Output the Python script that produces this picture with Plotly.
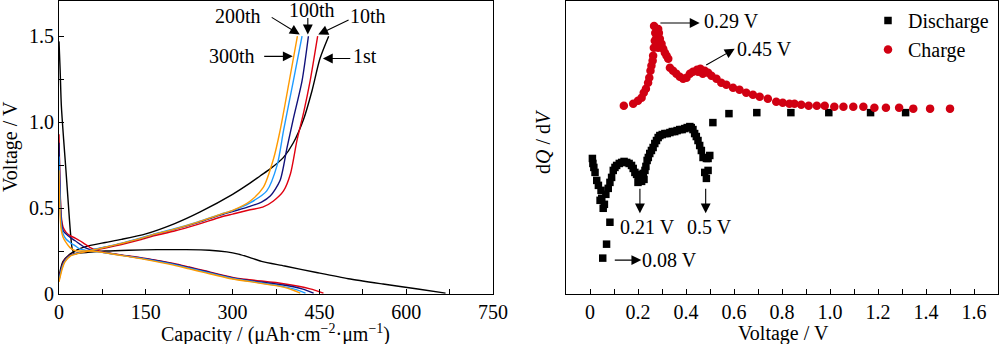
import plotly.graph_objects as go

# ---------------- Left panel: charge/discharge profiles ----------------
cycles = ["1st", "10th", "100th", "200th", "300th"]
colors = ["#000000", "#e00010", "#10107a", "#1e9bff", "#ff9a00"]

# discharge curves (capacity, voltage)
dis_cap_1 = [0, 2, 4, 8, 12, 16, 20, 23, 27, 35, 50, 80, 120, 170, 220, 260, 290, 310, 330, 350, 390, 445, 500, 560, 620, 668]
dis_v_1 = [1.47, 1.3, 1.1, 0.9, 0.72, 0.53, 0.35, 0.26, 0.235, 0.238, 0.243, 0.25, 0.255, 0.258, 0.258, 0.255, 0.245, 0.232, 0.212, 0.19, 0.163, 0.125, 0.089, 0.058, 0.029, 0.005]

dis_cap_10 = [0, 2, 4, 7, 12, 19, 28, 36, 45, 54, 65, 75, 108, 150, 198, 225, 250, 300, 330, 388, 434, 457]
dis_v_10 = [0.93, 0.6, 0.45, 0.39, 0.36, 0.34, 0.325, 0.31, 0.29, 0.27, 0.255, 0.245, 0.228, 0.207, 0.178, 0.157, 0.137, 0.097, 0.083, 0.06, 0.03, 0.005]

dis_cap_100 = [0, 2, 4, 7, 12, 19, 28, 36, 45, 54, 65, 75, 108, 150, 198, 225, 250, 300, 330, 388, 420, 440]
dis_v_100 = [0.88, 0.58, 0.43, 0.37, 0.35, 0.33, 0.31, 0.29, 0.27, 0.258, 0.25, 0.243, 0.226, 0.205, 0.175, 0.154, 0.134, 0.094, 0.078, 0.052, 0.03, 0.005]

dis_cap_200 = [0, 2, 4, 7, 12, 19, 28, 36, 45, 54, 65, 75, 108, 150, 198, 225, 250, 300, 330, 388, 410, 426]
dis_v_200 = [0.8, 0.52, 0.4, 0.35, 0.32, 0.3, 0.28, 0.262, 0.255, 0.25, 0.247, 0.242, 0.225, 0.203, 0.172, 0.15, 0.13, 0.09, 0.074, 0.043, 0.025, 0.005]

dis_cap_300 = [0, 2, 4, 7, 12, 19, 28, 36, 45, 54, 65, 75, 108, 150, 198, 225, 250, 300, 330, 388, 405, 417]
dis_v_300 = [0.72, 0.45, 0.37, 0.33, 0.3, 0.27, 0.252, 0.25, 0.25, 0.25, 0.247, 0.242, 0.224, 0.2, 0.168, 0.146, 0.126, 0.087, 0.072, 0.04, 0.022, 0.005]

# charge curves (capacity, voltage)
chg_cap_1 = [0, 2, 7, 19, 33, 51, 80, 108, 150, 200, 244, 300, 330, 348, 365, 388, 405, 423, 437, 451, 466]
chg_v_1 = [0.1, 0.135, 0.19, 0.232, 0.26, 0.28, 0.3, 0.318, 0.35, 0.41, 0.478, 0.58, 0.645, 0.688, 0.728, 0.795, 0.88, 1.02, 1.18, 1.37, 1.5]

chg_cap_10 = [0, 2, 5, 10, 20, 35, 51, 80, 108, 140, 166, 198, 240, 280, 300, 330, 352, 370, 388, 400, 411, 423, 434, 447]
chg_v_10 = [0.09, 0.12, 0.16, 0.2, 0.228, 0.24, 0.25, 0.268, 0.288, 0.315, 0.34, 0.365, 0.405, 0.448, 0.465, 0.49, 0.505, 0.54, 0.6, 0.7, 0.89, 1.06, 1.24, 1.5]

chg_cap_100 = [0, 2, 5, 10, 20, 35, 51, 80, 108, 140, 166, 198, 240, 280, 300, 330, 350, 365, 382, 394, 405, 420, 431]
chg_v_100 = [0.085, 0.115, 0.155, 0.195, 0.226, 0.24, 0.252, 0.272, 0.293, 0.322, 0.348, 0.375, 0.415, 0.46, 0.48, 0.51, 0.535, 0.57, 0.66, 0.85, 1.02, 1.24, 1.5]

chg_cap_200 = [0, 2, 5, 10, 20, 35, 51, 80, 108, 140, 166, 198, 240, 280, 300, 330, 359, 377, 388, 405, 420]
chg_v_200 = [0.08, 0.11, 0.15, 0.19, 0.224, 0.24, 0.252, 0.274, 0.296, 0.325, 0.35, 0.378, 0.42, 0.465, 0.485, 0.53, 0.6, 0.75, 0.95, 1.24, 1.5]

chg_cap_300 = [0, 2, 5, 10, 20, 35, 51, 80, 108, 140, 166, 198, 240, 280, 300, 330, 353, 371, 382, 398, 412]
chg_v_300 = [0.07, 0.1, 0.14, 0.185, 0.222, 0.238, 0.25, 0.272, 0.294, 0.322, 0.348, 0.376, 0.418, 0.465, 0.487, 0.54, 0.62, 0.79, 0.95, 1.24, 1.5]

dis_caps = [dis_cap_1, dis_cap_10, dis_cap_100, dis_cap_200, dis_cap_300]
dis_vs = [dis_v_1, dis_v_10, dis_v_100, dis_v_200, dis_v_300]
chg_caps = [chg_cap_1, chg_cap_10, chg_cap_100, chg_cap_200, chg_cap_300]
chg_vs = [chg_v_1, chg_v_10, chg_v_100, chg_v_200, chg_v_300]

# ---------------- Right panel: dQ/dV (arbitrary units) ----------------
dis_volt = [1.315, 1.169, 0.995, 0.837, 0.695, 0.579, 0.512,
            0.499, 0.492, 0.485, 0.478, 0.485, 0.492, 0.471, 0.464, 0.457, 0.450, 0.443, 0.436, 0.429, 0.422,
            0.416, 0.405, 0.395, 0.384, 0.374, 0.363, 0.353, 0.343, 0.333, 0.322, 0.312, 0.301, 0.291, 0.284,
            0.277, 0.270, 0.263, 0.256, 0.249, 0.243, 0.238, 0.233, 0.229, 0.222, 0.215, 0.208, 0.201, 0.194,
            0.187, 0.180, 0.173, 0.163, 0.153, 0.142, 0.132, 0.122, 0.111, 0.104, 0.097, 0.090, 0.083, 0.076,
            0.083, 0.069, 0.053, 0.055, 0.049, 0.042, 0.046, 0.035, 0.028, 0.021, 0.016, 0.012, 0.010,
            0.200, 0.215, 0.225, 0.060, 0.066]
dis_dqdv = [182, 182, 182, 182, 182, 181, 172,
            139, 136, 136, 122, 116, 124, 137, 144, 149, 154, 158, 161, 165, 167,
            168, 167, 166, 165, 165, 164, 163, 163, 162, 161, 161, 160, 159, 157,
            154, 151, 147, 144, 141, 137, 134, 128, 124, 121, 119, 118, 119, 120,
            122, 126, 129, 131, 132, 133, 132, 131, 129, 127, 124, 117, 112, 106,
            72, 50, 36, 86, 96, 94, 104, 109, 114, 122, 127, 131, 136,
            112, 113, 115, 90, 100]

chg_volt = [0.141, 0.18, 0.2, 0.215, 0.224, 0.233, 0.242, 0.247, 0.252, 0.256, 0.261, 0.263, 0.266, 0.27,
            0.267, 0.284, 0.277, 0.291, 0.298, 0.284, 0.305, 0.312, 0.319, 0.326, 0.333, 0.346, 0.36,
            0.374, 0.388, 0.402, 0.416, 0.429, 0.446, 0.46, 0.478, 0.492, 0.506, 0.527, 0.547, 0.568,
            0.596, 0.623, 0.651, 0.679, 0.707, 0.741, 0.776, 0.803, 0.831, 0.852, 0.88, 0.911, 0.945,
            0.978, 1.018, 1.056, 1.097, 1.139, 1.185, 1.233, 1.288, 1.347, 1.417, 1.5,
            0.272, 0.278, 0.287, 0.45, 0.47]
chg_dqdv = [189, 191, 194, 197, 202, 206, 212, 217, 224, 229, 234, 239, 247, 254,
            269, 266, 257, 256, 251, 247, 246, 242, 239, 236, 227, 224, 221,
            218, 216, 217, 221, 223, 225, 226, 224, 222, 219, 216, 212, 210,
            207, 205, 202, 200, 198, 196, 193, 192, 191, 191, 190, 189, 189,
            189, 188, 188, 188, 188, 187, 187, 187, 186, 186, 186,
            262, 250, 262, 223, 221]

FONT = "Liberation Serif, Times New Roman, serif"
FS = 20

fig = go.Figure()

for i in range(len(cycles)):
    fig.add_trace(go.Scatter(x=dis_caps[i], y=dis_vs[i], mode="lines",
                             line=dict(color=colors[i], width=1.4, shape="spline", smoothing=0.7),
                             showlegend=False, xaxis="x", yaxis="y"))
    fig.add_trace(go.Scatter(x=chg_caps[i], y=chg_vs[i], mode="lines",
                             line=dict(color=colors[i], width=1.4, shape="spline", smoothing=0.7),
                             showlegend=False, xaxis="x", yaxis="y"))

fig.add_trace(go.Scatter(x=dis_volt, y=dis_dqdv, mode="markers", name="Discharge",
                         marker=dict(symbol="square", size=7.5, color="#000000"),
                         xaxis="x2", yaxis="y2"))
fig.add_trace(go.Scatter(x=chg_volt, y=chg_dqdv, mode="markers", name="Charge",
                         marker=dict(symbol="circle", size=8.5, color="#d10012"),
                         xaxis="x2", yaxis="y2"))

axis_common = dict(showline=True, linecolor="black", linewidth=1, mirror=True,
                   ticks="inside", ticklen=5, tickcolor="black", showgrid=False, zeroline=False,
                   tickfont=dict(family=FONT, size=FS, color="black"), automargin=False)

ybot = 50 / 343

fig.update_layout(
    width=1000, height=344,
    margin=dict(l=0, r=0, t=1, b=0),
    paper_bgcolor="white", plot_bgcolor="white",
    font=dict(family=FONT, size=FS, color="black"),
    xaxis=dict(domain=[0.059, 0.493], range=[0, 750], tickvals=[0, 150, 300, 450, 600, 750],
               minor=dict(ticks="inside", tickvals=[75, 225, 375, 525, 675], ticklen=5, tickcolor="black"),
               anchor="y", **axis_common),
    yaxis=dict(domain=[ybot, 1], range=[0, 1.705], tickvals=[0, 0.5, 1.0, 1.5],
               ticktext=["0", "0.5", "1.0", "1.5"],
               minor=dict(ticks="inside", tickvals=[0.25, 0.75, 1.25], ticklen=5, tickcolor="black"),
               anchor="x", **axis_common),
    xaxis2=dict(domain=[0.566, 0.998], range=[-0.1, 1.7], tickvals=[0, 0.2, 0.4, 0.6, 0.8, 1.0, 1.2, 1.4, 1.6],
                ticktext=["0", "0.2", "0.4", "0.6", "0.8", "1.0", "1.2", "1.4", "1.6"],
                minor=dict(ticks="inside", tickvals=[0.1, 0.3, 0.5, 0.7, 0.9, 1.1, 1.3, 1.5], ticklen=5, tickcolor="black"),
                anchor="y2", **axis_common),
    yaxis2=dict(domain=[ybot, 1], range=[0, 294], showticklabels=False, anchor="x2",
                showline=True, linecolor="black", linewidth=1, mirror=True, ticks="",
                showgrid=False, zeroline=False, automargin=False),
    legend=dict(x=0.868, y=1.0, xanchor="left", yanchor="top", bgcolor="rgba(0,0,0,0)",
                font=dict(family=FONT, size=FS), itemwidth=30, tracegroupgap=0),
)

ann = []
# axis titles
ann.append(dict(text="Capacity / (μAh·cm<sup>−2</sup>·μm<sup>−1</sup>)", xref="paper", yref="paper",
                x=0.275, y=(344 - 333) / 343, xanchor="center", yanchor="middle",
                showarrow=False, font=dict(size=FS)))
ann.append(dict(text="Voltage / V", xref="paper", yref="paper", x=0.010, y=(344 - 147) / 343,
                xanchor="center", yanchor="middle", textangle=-90, showarrow=False, font=dict(size=FS)))
ann.append(dict(text="Voltage / V", xref="paper", yref="paper", x=0.783, y=(344 - 333) / 343,
                xanchor="center", yanchor="middle", showarrow=False, font=dict(size=FS)))
ann.append(dict(text="d<i>Q</i> / d<i>V</i>", xref="paper", yref="paper", x=0.543, y=(344 - 142) / 343,
                xanchor="center", yanchor="middle", textangle=-90, showarrow=False, font=dict(size=FS)))

# left panel labels: (text, x, y)
left_labels = [("200th", 309, 1.615), ("100th", 437, 1.65), ("10th", 534, 1.615),
               ("300th", 299, 1.383), ("1st", 529, 1.383)]
for t, x, y in left_labels:
    ann.append(dict(text=t, x=x, y=y, xref="x", yref="y", xanchor="center", yanchor="middle",
                    showarrow=False, font=dict(size=FS)))
# left arrows: (tail x, tail y, head x, head y)
left_arrows = [(365, 1.615, 416, 1.51), (430, 1.615, 430, 1.51), (503, 1.598, 448, 1.51),
               (352, 1.383, 404, 1.383), (506, 1.37, 456, 1.37)]
for tx, ty, hx, hy in left_arrows:
    ann.append(dict(text="", x=hx, y=hy, ax=tx, ay=ty, xref="x", yref="y", axref="x", ayref="y",
                    showarrow=True, arrowhead=2, arrowsize=1.8, arrowwidth=1.1, arrowcolor="black"))

right_labels = [("0.29 V", 0.59, 274), ("0.45 V", 0.727, 246), ("0.21 V", 0.241, 67),
                ("0.5 V", 0.499, 67), ("0.08 V", 0.331, 34)]
for t, x, y in right_labels:
    ann.append(dict(text=t, x=x, y=y, xref="x2", yref="y2", xanchor="center", yanchor="middle",
                    showarrow=False, font=dict(size=FS)))
right_arrows = [(0.287, 272, 0.457, 272), (0.478, 229, 0.603, 246), (0.208, 107, 0.208, 81),
                (0.482, 107, 0.482, 81), (0.097, 34, 0.214, 34)]
for tx, ty, hx, hy in right_arrows:
    ann.append(dict(text="", x=hx, y=hy, ax=tx, ay=ty, xref="x2", yref="y2", axref="x2", ayref="y2",
                    showarrow=True, arrowhead=2, arrowsize=1.8, arrowwidth=1.1, arrowcolor="black"))

fig.update_layout(annotations=ann)

fig.write_html("out.html")
